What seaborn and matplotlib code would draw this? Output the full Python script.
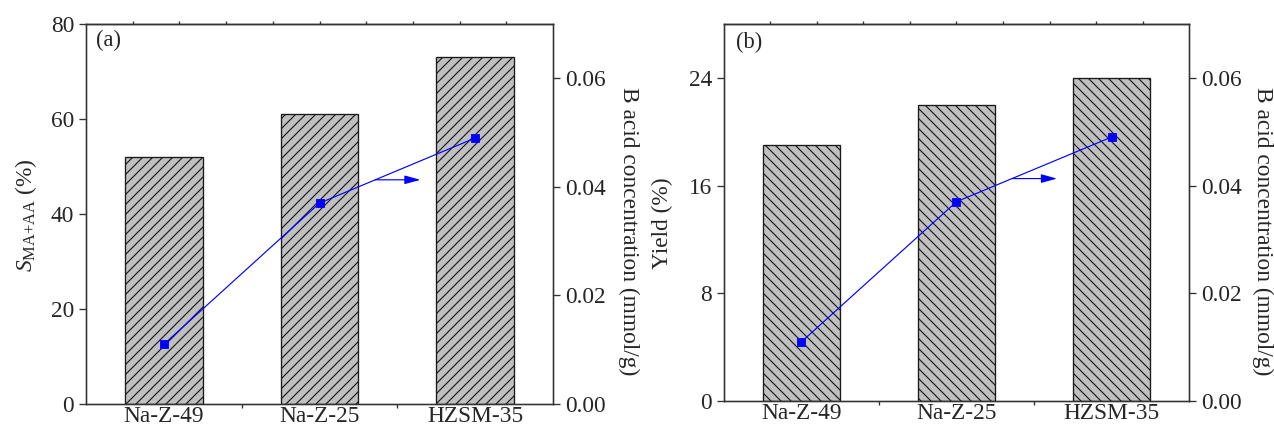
import numpy as np
import matplotlib
matplotlib.use("Agg")
import matplotlib.pyplot as plt
import seaborn as sns

# ---------------- data ----------------
categories = ["Na-Z-49", "Na-Z-25", "HZSM-35"]
selectivity = [52, 61, 73]          # S_MA+AA (%)  panel (a)
yield_pct = [19, 22, 24]            # Yield (%)    panel (b)
b_acid_a = [0.011, 0.037, 0.049]    # B acid concentration (mmol/g)
b_acid_b = [0.011, 0.037, 0.049]
left_ticks_a = [0, 20, 40, 60, 80]
left_ticks_b = [0, 8, 16, 24]
right_ticks = [0.00, 0.02, 0.04, 0.06]
right_ticklabels = ["0.00", "0.02", "0.04", "0.06"]

sns.set_theme(style="ticks")
plt.rcParams["font.family"] = ["Liberation Serif", "DejaVu Serif"]
plt.rcParams["mathtext.fontset"] = "custom"
plt.rcParams["mathtext.rm"] = "Liberation Serif"
plt.rcParams["mathtext.it"] = "Liberation Serif:italic"
plt.rcParams["hatch.linewidth"] = 0.7
plt.rcParams["hatch.color"] = "black"

DPI = 120
W, H = 1274, 427
fig = plt.figure(figsize=(W / DPI, H / DPI), dpi=DPI)
fig.patch.set_facecolor("white")

SPINE = "#333333"
FS = 14


def panel(rect, values, acid, hatch, yticks, ylim, ylabel, lab, lab_pos,
          lcoords, rcoords):
    ax = fig.add_axes(rect)
    sns.barplot(x=categories, y=values, color="#c0c0c0", saturation=1,
                edgecolor="#1a1a1a", linewidth=0.8, width=0.5, ax=ax,
                errorbar=None)
    for p in ax.patches:
        p.set_hatch(hatch)
    ax.set_xlim(-0.5, 2.5)
    ax.set_ylim(*ylim)
    ax.set_yticks(yticks)
    ax.set_yticklabels([str(t) for t in yticks], fontsize=FS)
    ax.set_xticks(np.arange(len(categories)))
    ax.set_xticklabels(categories, fontsize=FS)
    ax.set_xticks([0.5, 1.5], minor=True)
    ax.tick_params(axis="x", which="major", length=0, pad=1)
    ax.tick_params(axis="x", which="minor", bottom=True, length=2.2,
                   width=0.8, color=SPINE, direction="out")
    ax.tick_params(axis="y", which="major", left=True, length=4.2,
                   width=0.8, color=SPINE, direction="out", pad=3)
    ax.set_xlabel("")
    ax.set_ylabel(ylabel, fontsize=FS)
    ax.yaxis.label.set_va("center")
    ax.yaxis.label.set_ha("center")
    ax.yaxis.set_label_coords(*lcoords)

    # top ticks
    sec = ax.secondary_xaxis("top")
    sec.set_xticks(np.arange(-0.2, 2.3, 0.3))
    sec.set_xticklabels([])
    sec.tick_params(axis="x", length=2, width=0.8, color=SPINE,
                    direction="out")
    sec.spines["top"].set_color(SPINE)
    sec.spines["top"].set_linewidth(0.8)

    ax2 = ax.twinx()
    xpos = np.arange(len(categories))
    sns.lineplot(x=xpos, y=acid, ax=ax2, color="blue", linewidth=0.7,
                 marker="s", markersize=4.6, markeredgecolor="blue",
                 markeredgewidth=0.5)
    ax2.set_ylim(0, 0.07)
    ax2.set_yticks(right_ticks)
    ax2.set_yticklabels(right_ticklabels, fontsize=FS)
    ax2.tick_params(axis="y", length=4.2, width=0.8, color=SPINE,
                    direction="out", pad=3)
    ax2.set_ylabel("B acid concentration (mmol/g)", fontsize=FS,
                   rotation=270)
    ax2.yaxis.label.set_va("center")
    ax2.yaxis.label.set_ha("center")
    ax2.yaxis.set_label_coords(*rcoords)
    ax.set_xlim(-0.5, 2.5)

    # arrow pointing to right axis
    y_arr = 0.0413
    frac = (y_arr - acid[1]) / (acid[2] - acid[1])
    x_start = xpos[1] + frac * (xpos[2] - xpos[1])
    ax2.annotate("", xy=(x_start + 0.29, y_arr), xytext=(x_start, y_arr),
                 arrowprops=dict(arrowstyle="-|>,head_length=0.8,head_width=0.22",
                                 color="blue", lw=0.7, shrinkA=0, shrinkB=0,
                                 mutation_scale=10))

    for a in (ax, ax2):
        for s in a.spines.values():
            s.set_color(SPINE)
            s.set_linewidth(0.8)

    ax.text(lab_pos[0], lab_pos[1], lab, transform=ax.transAxes,
            fontsize=13.5, va="top", ha="left")
    return ax, ax2


panel([86 / W, 23 / H, 467 / W, 380 / H], selectivity, b_acid_a, "////",
      left_ticks_a, (0, 80), r"$S_{\mathrm{MA{+}AA}}$ (%)", "(a)",
      (0.022, 0.985), (-0.128, 0.497), (1.162, 0.455))

panel([724 / W, 26 / H, 465 / W, 377 / H], yield_pct, b_acid_b, "\\\\\\\\",
      left_ticks_b, (0, 28), "Yield (%)", "(b)",
      (0.026, 0.98), (-0.133, 0.472), (1.159, 0.451))

fig.savefig("out.png", dpi=DPI, facecolor="white")
